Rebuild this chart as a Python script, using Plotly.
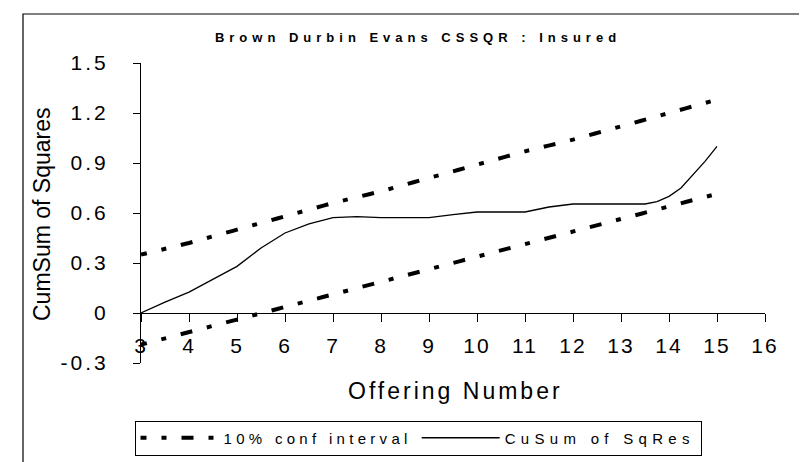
import plotly.graph_objects as go

# ---- data ----
offering_cusum = [3, 3.5, 4, 4.5, 5, 5.5, 6, 6.5, 7, 7.5, 8, 8.5, 9, 9.5, 10, 10.5,
                  11, 11.5, 12, 12.5, 13, 13.5, 13.75, 14, 14.25, 14.5, 14.75, 15]
cusum_sqres = [0.00, 0.065, 0.125, 0.205, 0.28, 0.39, 0.48, 0.535, 0.572, 0.578,
               0.572, 0.572, 0.572, 0.59, 0.606, 0.606, 0.606, 0.636, 0.654, 0.654,
               0.654, 0.654, 0.668, 0.70, 0.75, 0.83, 0.91, 1.00]

offering_bounds = [3, 4, 5, 6, 7, 8, 9, 10, 11, 12, 13, 14, 15]
upper_bound = [0.35, 0.42, 0.50, 0.58, 0.66, 0.73, 0.81, 0.89, 0.97, 1.04, 1.12, 1.20, 1.28]
lower_bound = [-0.19, -0.115, -0.04, 0.035, 0.11, 0.19, 0.26, 0.34, 0.41, 0.49, 0.56, 0.64, 0.715]

x_ticks = [3, 4, 5, 6, 7, 8, 9, 10, 11, 12, 13, 14, 15, 16]
y_ticks = [-0.3, 0, 0.3, 0.6, 0.9, 1.2, 1.5]
y_tick_labels = ["-0.3", "0", "0.3", "0.6", "0.9", "1.2", "1.5"]

title_text = "Brown Durbin Evans CSSQR : Insured"
x_title = "Offering Number"
y_title = "CumSum of Squares"
band_name = "10% conf interval"
cusum_name = "CuSum of SqRes"

FONT = "Liberation Sans, Arial, sans-serif"

# plot-area geometry (pixels)
L, R, T, B = 133, 757, 55, 355
W, H = 807, 462


def spaced(s, px):
    return f'<span style="letter-spacing:{px}px">{s}</span>'


# long-dash / dot pattern, starting half way through a dash
band_dash = "6px,15px,5px,15px,6px,0px"

fig = go.Figure()
fig.add_trace(go.Scatter(
    x=offering_bounds, y=upper_bound, mode="lines", name=spaced(band_name, 4.3),
    legendgroup="band", line=dict(color="black", width=4, dash=band_dash),
    hoverinfo="skip"))
fig.add_trace(go.Scatter(
    x=offering_bounds, y=lower_bound, mode="lines", name=spaced(band_name, 4.3),
    legendgroup="band", showlegend=False,
    line=dict(color="black", width=4, dash=band_dash), hoverinfo="skip"))
fig.add_trace(go.Scatter(
    x=offering_cusum, y=cusum_sqres, mode="lines", name=spaced(cusum_name, 5.3),
    line=dict(color="black", width=1.3), hoverinfo="skip"))

fig.update_layout(
    width=W, height=H,
    margin=dict(l=L, r=W - R, t=T, b=H - B, autoexpand=False),
    paper_bgcolor="white", plot_bgcolor="white",
    font=dict(family=FONT, color="black"),
    title=dict(text="<b>" + spaced(title_text, 5) + "</b>",
               font=dict(size=13, family=FONT, color="black"),
               x=410 / W, xanchor="center", y=1 - 29 / H, yanchor="middle",
               xref="container", yref="container"),
    showlegend=True,
    legend=dict(orientation="h", xref="container", yref="container",
                x=410 / W, xanchor="center", y=1 - 430 / H, yanchor="middle",
                bordercolor="black", borderwidth=1, bgcolor="white",
                font=dict(size=15, family=FONT), itemwidth=78,
                traceorder="normal"),
    xaxis=dict(range=[3, 16], tickvals=x_ticks,
               ticktext=[spaced(str(v), 2) for v in x_ticks],
               showgrid=False, zeroline=False, showline=True, linecolor="black",
               linewidth=1, ticks="outside", ticklen=8, tickcolor="black",
               tickfont=dict(size=21, family=FONT), ticklabelstandoff=6,
               anchor="free", position=1 / 6, automargin=False),
    yaxis=dict(range=[-0.3, 1.5], tickvals=y_ticks,
               ticktext=[spaced(t, 3) for t in y_tick_labels],
               showgrid=False, zeroline=False, showline=True, linecolor="black",
               linewidth=1, ticks="outside", ticklen=7, tickcolor="black",
               tickfont=dict(size=21, family=FONT), ticklabelstandoff=20,
               automargin=False),
    annotations=[
        dict(text=spaced(x_title, 3), xref="paper", yref="paper",
             x=(447 - L) / (R - L), y=(B - 383) / (B - T), xanchor="center",
             yanchor="middle", showarrow=False, font=dict(size=23, family=FONT)),
        dict(text=y_title, xref="paper", yref="paper", textangle=-90,
             x=(34 - L) / (R - L), y=(B - 207) / (B - T),
             xanchor="center", yanchor="middle",
             showarrow=False, font=dict(size=23, family=FONT)),
    ],
    shapes=[dict(type="rect", xref="paper", yref="paper",
                 x0=(15 - L) / (R - L), x1=(840 - L) / (R - L),
                 y0=(B - 500) / (B - T), y1=(B - 6) / (B - T),
                 line=dict(color="black", width=1.2), fillcolor="rgba(0,0,0,0)",
                 layer="below")],
)

fig.write_html("out.html")
